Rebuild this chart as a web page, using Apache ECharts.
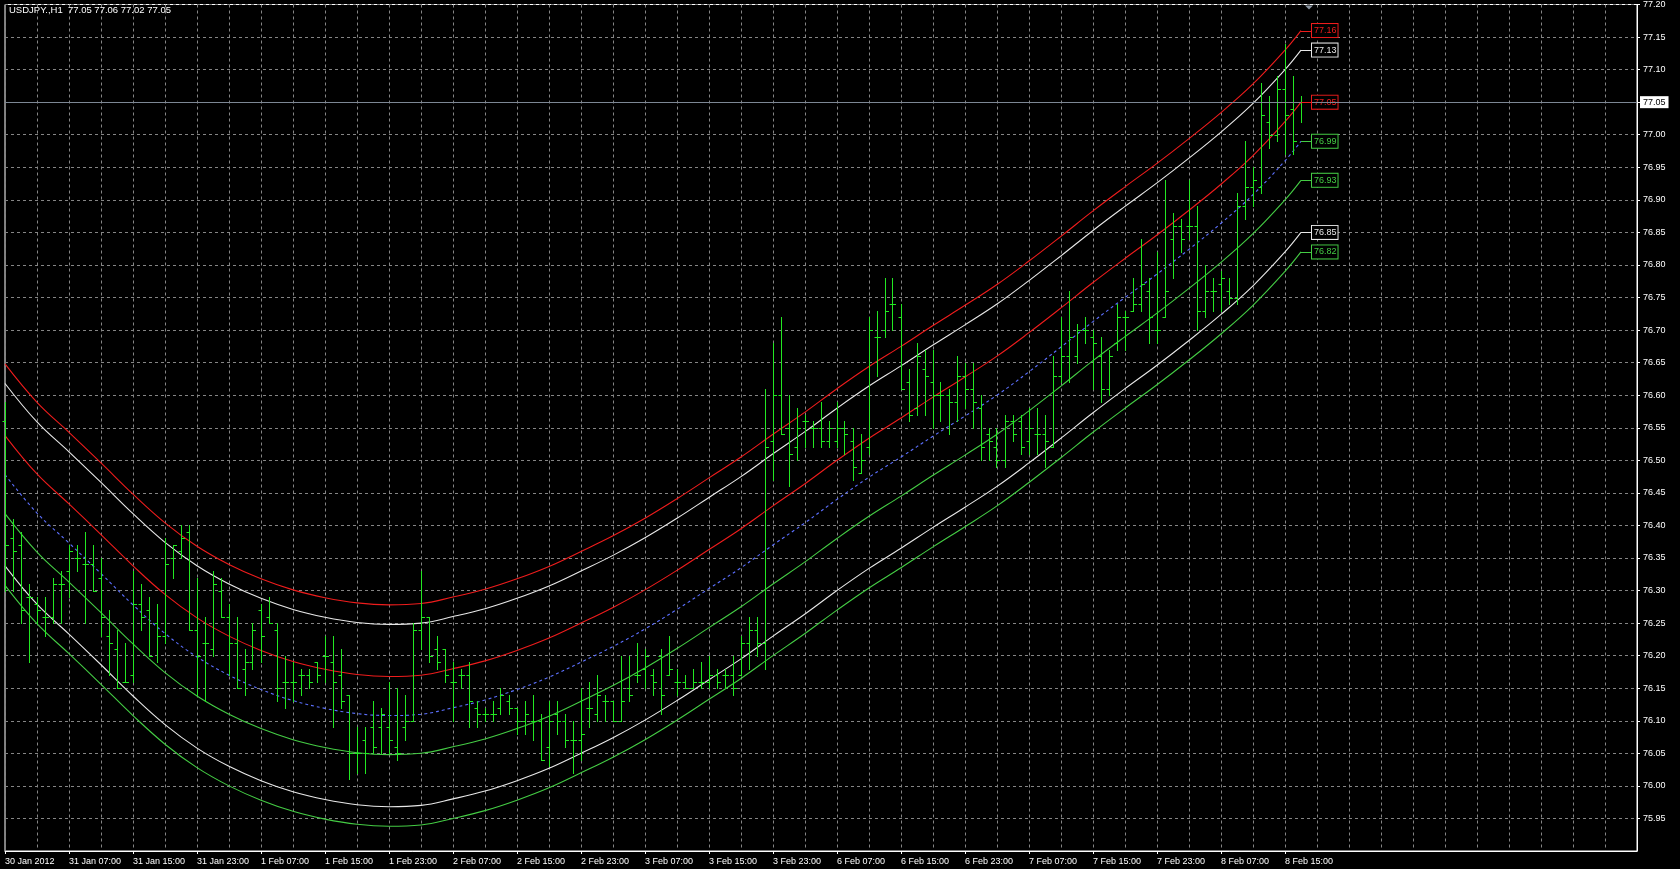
<!DOCTYPE html>
<html><head><meta charset="utf-8">
<script src="https://cdn.jsdelivr.net/npm/echarts@6/dist/echarts.min.js"></script>
<style>html,body{margin:0;padding:0;background:#000;overflow:hidden}#c{width:1680px;height:869px}</style>
</head><body><div id="c"></div>
<script>
// ---------- DATA ----------
const symbolName = 'USDJPY.';
const timeframe = 'H1';
const xTickLabels = ['30 Jan 2012','31 Jan 07:00','31 Jan 15:00','31 Jan 23:00','1 Feb 07:00','1 Feb 15:00','1 Feb 23:00','2 Feb 07:00','2 Feb 15:00','2 Feb 23:00','3 Feb 07:00','3 Feb 15:00','3 Feb 23:00','6 Feb 07:00','6 Feb 15:00','6 Feb 23:00','7 Feb 07:00','7 Feb 15:00','7 Feb 23:00','8 Feb 07:00','8 Feb 15:00'];
const opens = [
76.56,76.38,76.37,76.29,76.28,76.26,76.26,76.31,76.33,76.35,
76.34,76.34,76.32,76.23,76.21,76.16,76.17,76.28,76.27,76.25,
76.23,76.35,76.36,76.39,76.24,76.22,76.21,76.30,76.26,76.22,
76.18,76.19,76.27,76.26,76.24,76.16,76.16,76.17,76.17,76.19,
76.20,76.19,76.17,76.14,76.05,76.07,76.09,76.09,76.09,76.06,
76.09,76.10,76.24,76.26,76.21,76.21,76.16,76.17,76.17,76.12,
76.11,76.11,76.12,76.13,76.12,76.10,76.10,76.10,76.06,76.11,
76.10,76.07,76.07,76.12,76.11,76.13,76.13,76.10,76.15,76.17,
76.18,76.17,76.20,76.17,76.16,76.16,76.15,76.16,76.16,76.17,
76.17,76.17,76.17,76.22,76.24,76.22,76.53,76.60,76.55,76.52,
76.56,76.55,76.55,76.53,76.53,76.55,76.53,76.48,76.52,76.69,
76.70,76.74,76.72,76.62,76.58,76.64,76.62,76.60,76.60,76.59,
76.63,76.61,76.58,76.54,76.52,76.50,76.56,76.56,76.53,76.54,
76.54,76.52,76.63,76.66,76.66,76.70,76.69,76.66,76.61,76.68,
76.72,76.73,76.74,76.76,76.70,76.72,76.84,76.86,76.86,76.86,
76.73,76.76,76.77,76.76,76.75,76.89,76.92,76.92,77.02,77.00,
77.07,77.04,77.05];
const highs = [
76.59,76.41,76.39,76.31,76.29,76.29,76.32,76.33,76.37,76.37,
76.39,76.37,76.35,76.27,76.24,76.22,76.33,76.31,76.29,76.28,
76.38,76.37,76.40,76.40,76.32,76.26,76.33,76.32,76.28,76.26,
76.21,76.25,76.28,76.29,76.25,76.20,76.19,76.18,76.18,76.19,
76.23,76.23,76.21,76.14,76.09,76.09,76.13,76.12,76.16,76.15,
76.14,76.25,76.33,76.26,76.23,76.21,76.19,76.18,76.19,76.13,
76.12,76.13,76.15,76.14,76.12,76.13,76.14,76.11,76.13,76.13,
76.11,76.10,76.15,76.16,76.17,76.14,76.13,76.20,76.20,76.22,
76.21,76.18,76.21,76.23,76.18,76.17,76.18,76.19,76.20,76.18,
76.18,76.20,76.23,76.26,76.26,76.61,76.68,76.72,76.60,76.58,
76.57,76.56,76.59,76.56,76.59,76.56,76.55,76.54,76.72,76.73,
76.78,76.78,76.74,76.64,76.68,76.67,76.67,76.62,76.61,76.66,
76.65,76.65,76.60,76.55,76.55,76.57,76.57,76.57,76.58,76.58,
76.57,76.66,76.72,76.76,76.71,76.72,76.70,76.69,76.67,76.74,
76.73,76.78,76.84,76.78,76.82,76.93,76.88,76.87,76.93,76.89,
76.80,76.78,76.79,76.78,76.91,76.99,76.95,77.08,77.06,77.09,
77.14,77.09,77.06];
const lows = [
76.30,76.30,76.25,76.19,76.25,76.23,76.25,76.25,76.29,76.33,
76.25,76.30,76.23,76.17,76.15,76.16,76.16,76.24,76.20,76.19,
76.22,76.32,76.35,76.24,76.14,76.13,76.20,76.26,76.17,76.15,
76.14,76.18,76.19,76.25,76.13,76.12,76.13,76.14,76.15,76.16,
76.16,76.09,76.12,76.01,76.02,76.02,76.05,76.05,76.05,76.04,
76.07,76.10,76.21,76.19,76.18,76.16,76.10,76.15,76.09,76.09,
76.10,76.10,76.11,76.11,76.08,76.08,76.07,76.04,76.03,76.08,
76.06,76.02,76.04,76.09,76.10,76.10,76.10,76.10,76.13,76.16,
76.15,76.14,76.11,76.17,76.14,76.15,76.15,76.15,76.15,76.15,
76.15,76.14,76.17,76.18,76.20,76.18,76.47,76.54,76.46,76.50,
76.52,76.52,76.52,76.52,76.52,76.51,76.47,76.48,76.51,76.63,
76.69,76.70,76.61,76.56,76.57,76.57,76.55,76.56,76.54,76.56,
76.58,76.55,76.50,76.50,76.49,76.49,76.53,76.51,76.51,76.51,
76.49,76.52,76.62,76.62,76.65,76.68,76.61,76.59,76.60,76.67,
76.67,76.73,76.73,76.68,76.68,76.72,76.78,76.82,76.84,76.70,
76.72,76.73,76.73,76.74,76.74,76.87,76.89,76.91,76.98,76.99,
76.97,76.97,77.02];
const closes = [
76.37,76.36,76.27,76.29,76.27,76.26,76.31,76.31,76.36,76.35,
76.34,76.30,76.26,76.22,76.15,76.16,76.28,76.26,76.20,76.23,
76.34,76.37,76.38,76.24,76.20,76.22,76.31,76.26,76.22,76.15,
76.19,76.24,76.23,76.25,76.15,76.16,76.16,76.17,76.16,76.17,
76.20,76.16,76.13,76.05,76.05,76.05,76.06,76.11,76.07,76.05,
76.10,76.24,76.26,76.20,76.19,76.17,76.16,76.17,76.13,76.11,
76.11,76.11,76.14,76.12,76.10,76.11,76.10,76.04,76.10,76.10,
76.07,76.07,76.08,76.12,76.14,76.13,76.10,76.13,76.14,76.17,
76.20,76.16,76.14,76.18,76.16,76.15,76.16,76.16,76.17,76.16,
76.17,76.15,76.22,76.24,76.22,76.52,76.60,76.54,76.51,76.55,
76.56,76.55,76.53,76.55,76.55,76.54,76.49,76.50,76.70,76.69,
76.73,76.74,76.61,76.57,76.66,76.63,76.60,76.60,76.59,76.63,
76.61,76.59,76.52,76.53,76.50,76.56,76.54,76.52,76.55,76.54,
76.53,76.63,76.66,76.69,76.70,76.70,76.68,76.61,76.66,76.72,
76.72,76.74,76.77,76.72,76.70,76.76,76.86,76.84,76.86,76.73,
76.76,76.76,76.78,76.75,76.89,76.92,76.93,77.03,77.00,77.07,
77.03,76.99,77.05];
// regression channel centre line, read every 4 bars
const centerIdx = [0,4,8,12,16,20,24,28,32,36,40,44,48,52,56,60,64,68,72,76,80,84,88,92,96,100,104,108,112,116,120,124,128,132,136,140,144,148,152,156,160,162];
const centerVals = [76.478,76.419,76.373,76.326,76.278,76.234,76.198,76.170,76.148,76.131,76.119,76.111,76.108,76.110,76.120,76.132,76.148,76.167,76.190,76.214,76.241,76.271,76.303,76.335,76.370,76.404,76.440,76.474,76.505,76.537,76.568,76.600,76.636,76.674,76.713,76.750,76.786,76.824,76.864,76.908,76.960,76.990];
// channel offsets from the centre line (upper positive, lower negative)
const channelOffsets = [0.17, 0.14, 0.06, 0, -0.06, -0.14, -0.17];
const yMin = 75.90, yMax = 77.20, yStep = 0.05;
const totalSlots = 205;   // bars + right shift space

// ---------- STYLE ----------
const FONT = 'Liberation Sans';
const RED = '#ee1c1c', WHITE = '#e8e8e8', GREEN = '#44cc44', BLUE = '#5c70ff', BAR = '#22e822';
const lineStyles = [
  {color: RED, label: RED},
  {color: WHITE, label: WHITE},
  {color: RED, label: RED},
  {color: BLUE, label: GREEN, dashed: true},
  {color: GREEN, label: GREEN},
  {color: WHITE, label: WHITE},
  {color: GREEN, label: GREEN}
];

const chart = echarts.init(document.getElementById('c'), null, {renderer: 'canvas'});

const cats = [];
for (let i = 0; i < totalSlots; i++) {
  cats.push(i % 8 === 0 && (i / 8) < xTickLabels.length ? xTickLabels[i / 8] : '');
}
const ohlc = opens.map((o, i) => [i, o, highs[i], lows[i], closes[i]]);
const n = opens.length;
const lastO = opens[n-1], lastH = highs[n-1], lastL = lows[n-1], lastC = closes[n-1];

const channelSeries = channelOffsets.map((off, k) => {
  const st = lineStyles[k];
  return {
    type: 'line',
    data: centerIdx.map((ix, j) => [ix, +(centerVals[j] + off).toFixed(4)]),
    smooth: 0.4,
    showSymbol: false,
    silent: true,
    z: 3,
    lineStyle: {color: st.color, width: 1.1, type: st.dashed ? [3, 3] : 'solid'},
    endLabel: {
      show: true, distance: 11,
      formatter: p => p.value[1].toFixed(2),
      color: st.label, fontFamily: FONT, fontSize: 9, lineHeight: 10,
      backgroundColor: '#000', borderColor: st.label, borderWidth: 1,
      padding: [2, 1, 1, 2]
    }
  };
});

const option = {
  animation: false,
  backgroundColor: '#000',
  title: {
    text: symbolName + ',' + timeframe + '  ' + [lastO, lastH, lastL, lastC].map(v => v.toFixed(2)).join(' '),
    left: 9, top: 5, padding: 0,
    textStyle: {color: '#fff', fontFamily: FONT, fontSize: 9.5, fontWeight: 'normal'}
  },
  grid: {left: 5, right: 43, top: 4, bottom: 18, show: true, borderColor: '#fff', borderWidth: 1, backgroundColor: '#000'},
  xAxis: {
    type: 'category', data: cats, boundaryGap: false,
    axisLine: {show: true, lineStyle: {color: '#fff', width: 1}},
    axisTick: {show: true, length: 3, interval: (i, v) => v !== '', lineStyle: {color: '#fff'}},
    axisLabel: {show: true, interval: (i, v) => v !== '', color: '#fff', fontFamily: FONT, fontSize: 9, align: 'left', margin: 6},
    splitLine: {show: true, interval: (i) => i % 4 === 0, lineStyle: {color: '#858585', type: [3, 3], width: 1}}
  },
  yAxis: {
    type: 'value', position: 'right', min: yMin, max: yMax, interval: yStep, scale: true,
    axisLine: {show: true, lineStyle: {color: '#fff'}},
    axisTick: {show: true, length: 3, lineStyle: {color: '#fff'}},
    axisLabel: {color: '#fff', fontFamily: FONT, fontSize: 9, margin: 6, showMinLabel: false, formatter: v => v.toFixed(2)},
    splitLine: {show: true, lineStyle: {color: '#858585', type: [3, 3], width: 1}}
  },
  series: [
    ...channelSeries,
    {
      type: 'custom',
      data: ohlc,
      encode: {x: 0, y: [1, 2, 3, 4]},
      z: 4,
      renderItem: (params, api) => {
        const i = api.value(0);
        const po = api.coord([i, api.value(1)]);
        const ph = api.coord([i, api.value(2)]);
        const pl = api.coord([i, api.value(3)]);
        const pc = api.coord([i, api.value(4)]);
        const x = Math.floor(ph[0]) + 0.5;
        const yo = Math.round(po[1]) + 0.5, yc = Math.round(pc[1]) + 0.5;
        const st = {stroke: BAR, lineWidth: 1};
        return {type: 'group', children: [
          {type: 'line', shape: {x1: x, y1: Math.round(ph[1]), x2: x, y2: Math.round(pl[1]) + 1}, style: st},
          {type: 'line', shape: {x1: x - 3, y1: yo, x2: x, y2: yo}, style: st},
          {type: 'line', shape: {x1: x, y1: yc, x2: x + 3.5, y2: yc}, style: st}
        ]};
      }
    },
    {
      type: 'line', data: [], silent: true,
      markLine: {
        silent: true, symbol: 'none', animation: false,
        lineStyle: {color: '#7d8794', type: 'solid', width: 1},
        label: {show: true, position: 'end', distance: 3, formatter: () => lastC.toFixed(2),
          color: '#000', backgroundColor: '#fff', padding: [2, 3, 1, 3], fontFamily: FONT, fontSize: 9},
        data: [{yAxis: lastC}]
      }
    }
  ]
};
chart.setOption(option);

// connectors from channel ends to their price boxes, and the chart-shift marker
const lastIdx = centerIdx[centerIdx.length - 1];
const lastCenter = centerVals[centerVals.length - 1];
const gfx = channelOffsets.map((off, k) => {
  const p = chart.convertToPixel({xAxisIndex: 0, yAxisIndex: 0}, [lastIdx, lastCenter + off]);
  const y = Math.round(p[1]) + 0.5;
  return {type: 'line', z: 10, shape: {x1: p[0], y1: y, x2: p[0] + 11, y2: y}, style: {stroke: lineStyles[k].label, lineWidth: 1}};
});
const sp = chart.convertToPixel({xAxisIndex: 0, yAxisIndex: 0}, [n, yMax]);
gfx.push({type: 'polygon', z: 10, shape: {points: [[sp[0] - 4, sp[1] + 1], [sp[0] + 4, sp[1] + 1], [sp[0], sp[1] + 5]]}, style: {fill: '#8a94a0'}});
chart.setOption({graphic: gfx});
</script>
</body></html>
